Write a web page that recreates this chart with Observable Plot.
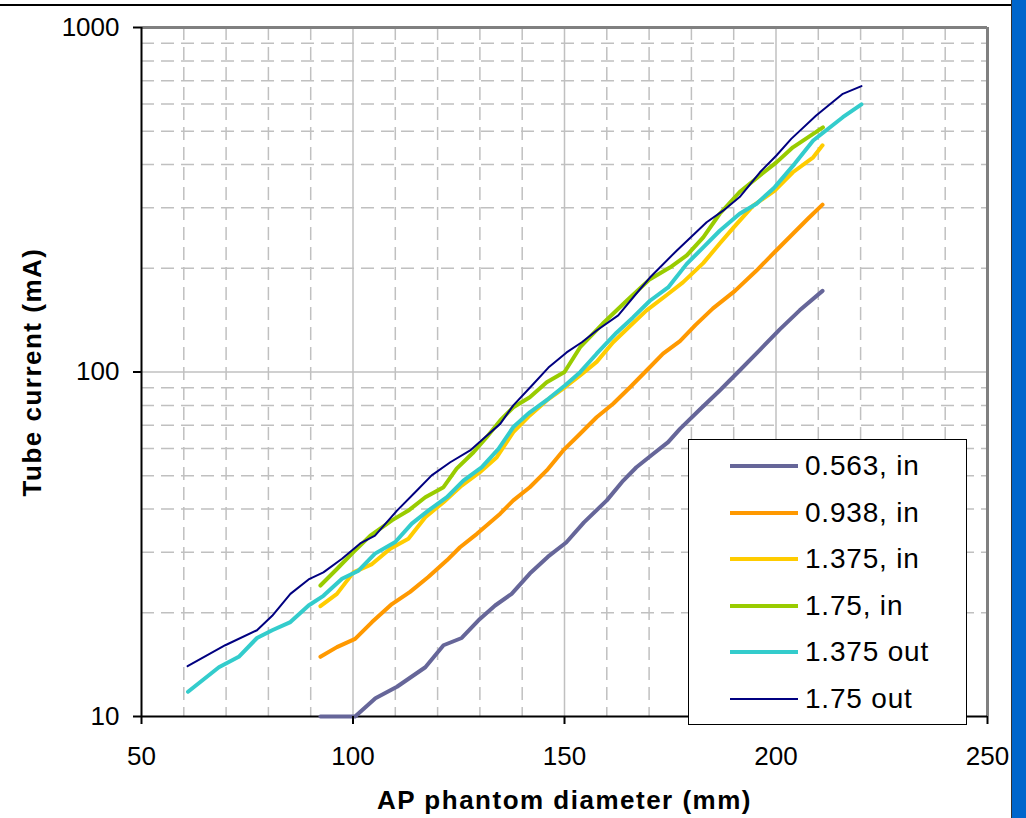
<!DOCTYPE html>
<html>
<head>
<meta charset="utf-8">
<script src="https://cdn.jsdelivr.net/npm/d3@7"></script>
<script src="https://cdn.jsdelivr.net/npm/@observablehq/plot@0.6"></script>
<style>
  html, body { margin: 0; padding: 0; background: #fff; overflow: hidden; }
  #wrap { position: relative; width: 1026px; height: 818px; }
  #topline { position: absolute; left: 0; top: 4px; width: 1012px; height: 2px; background: #000; }
  #bluebar { position: absolute; left: 1011px; top: 0; width: 15px; height: 818px; background: #0066cc; border-left: 1px solid #333; }
  #legend { position: absolute; left: 688px; top: 439px; width: 277px; height: 284px; border: 1.5px solid #000; background: #fff;
            font-family: 'Liberation Sans', Arial, sans-serif; font-size: 28px; letter-spacing: 0.8px; }
  .row { position: absolute; left: 0; height: 40px; width: 100%; }
  .sw { position: absolute; left: 41px; width: 68px; top: 50%; }
  .lab { position: absolute; left: 116px; top: 50%; transform: translateY(-50%); white-space: nowrap; line-height: 1; }
  .title { letter-spacing: 1.5px; }
</style>
</head>
<body>
<div id="wrap">
  <div id="chart"></div>
  <div id="topline"></div>
  <div id="bluebar"></div>
  <div id="legend"></div>
</div>
<script>
// ---- Data ----
const seriesNames = ["0.563, in", "0.938, in", "1.375, in", "1.75, in", "1.375 out", "1.75 out"];
const seriesColors = ["#666699", "#ff9900", "#ffcc00", "#99cc00", "#33cccc", "#000080"];
const seriesWidths = [4, 4, 4, 4, 4, 2];

const d_0563in = [92.3, 100.5, 105.3, 110.4, 117.1, 121.4, 125.7, 130, 133.6, 137.5, 141.8, 146.1, 150.4, 154.6, 160, 163.9, 167, 171, 174.5, 177.3, 182, 186.7, 191.4, 196.2, 200.9, 205.6, 211];
const v_0563in = [10, 10, 11.3, 12.2, 13.9, 16.1, 16.9, 19.2, 21.0, 22.7, 26.0, 29.1, 32.0, 36.6, 42.4, 48.4, 52.9, 57.9, 62.6, 68.4, 77.8, 88.4, 101, 116, 133, 151, 172];

const d_0938in = [92.3, 96.2, 100.5, 104.5, 109.2, 113.5, 117.8, 122.2, 125.3, 129.3, 134.8, 137.9, 141.8, 145.8, 149.7, 153.7, 157.6, 161.5, 165.5, 169.4, 173.3, 177.3, 181, 185.1, 190.3, 195.4, 199.7, 204, 207.6, 211];
const v_0938in = [14.9, 15.9, 16.8, 18.8, 21.2, 23.0, 25.4, 28.4, 31.0, 33.9, 38.8, 42.4, 46.3, 51.8, 59.2, 66.2, 73.9, 80.9, 90.3, 101, 113, 123, 137, 153, 172, 197, 223, 252, 279, 306];

const d_1375in = [92.3, 96.2, 100.1, 104.5, 108.8, 113.1, 117.1, 121.4, 125.7, 130, 134, 137.9, 141.8, 145.8, 150.1, 153.7, 157.6, 161.5, 165.5, 169.4, 174.1, 178, 182.8, 186.7, 189.9, 194.6, 199.7, 204, 208.8, 211];
const v_1375in = [20.9, 22.7, 26.2, 27.7, 30.7, 32.8, 37.9, 41.9, 46.8, 51.2, 56.6, 66.9, 74.8, 82.7, 90.3, 97.7, 107, 122, 136, 151, 167, 182, 207, 236, 262, 304, 336, 380, 420, 455];

const d_175in = [92.3, 96.2, 100.1, 104.1, 109.2, 113.1, 117.1, 121.4, 124.5, 128.5, 131.6, 134.8, 137.9, 141.8, 145.8, 150, 153.7, 159, 164.7, 170.2, 174.9, 178.9, 182.8, 186.7, 191.4, 196.2, 200.1, 204, 211.1];
const v_175in = [24.0, 26.8, 30.0, 33.5, 37.1, 39.6, 43.3, 46.3, 52.4, 58.5, 64.7, 72.3, 79, 84.5, 93.4, 100, 118, 138, 161, 186, 201, 218, 246, 288, 333, 372, 406, 449, 513];

const d_1375out = [61, 68.3, 73, 77.3, 80.9, 85.2, 89.5, 93, 97.4, 101.3, 105.2, 110, 113.9, 117.8, 122.2, 126.1, 130.4, 134.4, 137.9, 141.8, 146.2, 150.1, 153.7, 157.6, 162.3, 166.2, 170.2, 174.5, 178.9, 182.8, 186.7, 191.4, 195.4, 199.7, 204.4, 208.8, 215.8, 220.2];
const v_1375out = [11.8, 13.9, 14.9, 16.9, 17.8, 18.8, 21.0, 22.4, 25.1, 26.5, 29.7, 32.1, 36.3, 39.6, 43.3, 48.4, 52.9, 59.8, 69.2, 76.4, 83.6, 91.4, 99.9, 113, 130, 144, 161, 176, 206, 230, 257, 288, 308, 344, 402, 470, 549, 598];

const d_175out = [60.9, 69.8, 77.3, 80.9, 85.2, 89.5, 93, 97.4, 101.7, 105.2, 110.4, 115.1, 118.6, 123, 127.7, 130.8, 134.8, 137.9, 142.3, 146.2, 150.5, 154.1, 157.6, 162.7, 167, 170.2, 176.5, 183.6, 187.5, 191.4, 196.2, 200.1, 203.6, 209.5, 215.8, 220.2];
const v_175out = [14, 16.1, 17.8, 19.6, 22.7, 25.0, 26.2, 28.7, 31.8, 33.5, 39.6, 45.3, 50.1, 54.7, 59.2, 64, 70.7, 80, 91.4, 103, 114, 122, 132, 146, 169, 188, 225, 272, 294, 322, 380, 425, 475, 555, 642, 676];

const xTicks = [50, 100, 150, 200, 250];
const yTicks = [10, 100, 1000];
const xMinorGrid = [60, 70, 80, 90, 110, 120, 130, 140, 160, 170, 180, 190, 210, 220, 230, 240];
const xMajorGrid = [100, 150, 200];
const yMinorGrid = [20, 30, 40, 50, 60, 70, 80, 90, 200, 300, 400, 500, 600, 700, 800, 900];
const yMajorGrid = [100];

const xTitle = "AP phantom diameter (mm)";
const yTitle = "Tube current (mA)";

// ---- Build tables ----
const seriesD = [d_0563in, d_0938in, d_1375in, d_175in, d_1375out, d_175out];
const seriesV = [v_0563in, v_0938in, v_1375in, v_175in, v_1375out, v_175out];
const tables = seriesD.map((ds, i) => ds.map((d, j) => ({d, v: seriesV[i][j]})));

const font = "'Liberation Sans', Arial, sans-serif";
const gridStyle = {stroke: "#c0c0c0", strokeWidth: 1.5, strokeDasharray: "13,7"};

const lineMarks = tables.map((t, i) => Plot.line(t, {
  x: "d", y: "v", stroke: seriesColors[i], strokeWidth: seriesWidths[i],
  strokeLinejoin: "round", strokeLinecap: "round"
}));

const chart = Plot.plot({
  width: 1026, height: 818,
  marginLeft: 141, marginRight: 39, marginTop: 27, marginBottom: 102,
  style: {fontFamily: font, fontSize: "26px", color: "#000", background: "transparent", overflow: "visible"},
  x: {domain: [50, 250], ticks: xTicks, tickSize: 8, tickPadding: 22, label: null, tickFormat: d => String(d)},
  y: {type: "log", domain: [10, 1000], ticks: yTicks, tickSize: 8, tickPadding: 14, label: null, tickFormat: d => String(d)},
  marks: [
    Plot.ruleX(xMinorGrid, gridStyle),
    Plot.ruleY(yMinorGrid, gridStyle),
    Plot.ruleX(xMajorGrid, {stroke: "#c0c0c0", strokeWidth: 1.5}),
    Plot.ruleY(yMajorGrid, {stroke: "#c0c0c0", strokeWidth: 1.5}),
    Plot.ruleY([1000], {stroke: "#808080", strokeWidth: 3}),
    Plot.ruleX([250], {stroke: "#808080", strokeWidth: 3}),
    Plot.ruleX([50], {stroke: "#000", strokeWidth: 2}),
    Plot.ruleY([10], {stroke: "#000", strokeWidth: 2}),
    ...lineMarks,
    Plot.axisX({ticks: xTicks, tickSize: 8, tickPadding: 22, tickFormat: d => String(d), label: null, strokeWidth: 2}),
    Plot.axisY({ticks: yTicks, tickSize: 8, tickPadding: 14, tickFormat: d => String(d), label: null, strokeWidth: 2}),
    Plot.text([xTitle], {text: d => d, frameAnchor: "bottom", dy: 84, lineAnchor: "middle", textAnchor: "middle",
      fontWeight: "bold", fontSize: 26, fill: "#000", className: "title"}),
    Plot.text([yTitle], {text: d => d, frameAnchor: "left", dx: -109, rotate: -90, lineAnchor: "middle", textAnchor: "middle",
      fontWeight: "bold", fontSize: 26, fill: "#000", className: "title"})
  ]
});
document.getElementById("chart").appendChild(chart);

// ---- Legend ----
const legend = document.getElementById("legend");
const rowCenters = [26, 73, 119, 166, 212, 259];
seriesNames.forEach((name, i) => {
  const row = document.createElement("div");
  row.className = "row";
  row.style.top = (rowCenters[i] - 20) + "px";
  const sw = document.createElement("div");
  sw.className = "sw";
  sw.style.height = seriesWidths[i] + "px";
  sw.style.marginTop = (-seriesWidths[i] / 2) + "px";
  sw.style.background = seriesColors[i];
  const lab = document.createElement("div");
  lab.className = "lab";
  lab.textContent = name;
  row.appendChild(sw);
  row.appendChild(lab);
  legend.appendChild(row);
});
</script>
</body>
</html>
